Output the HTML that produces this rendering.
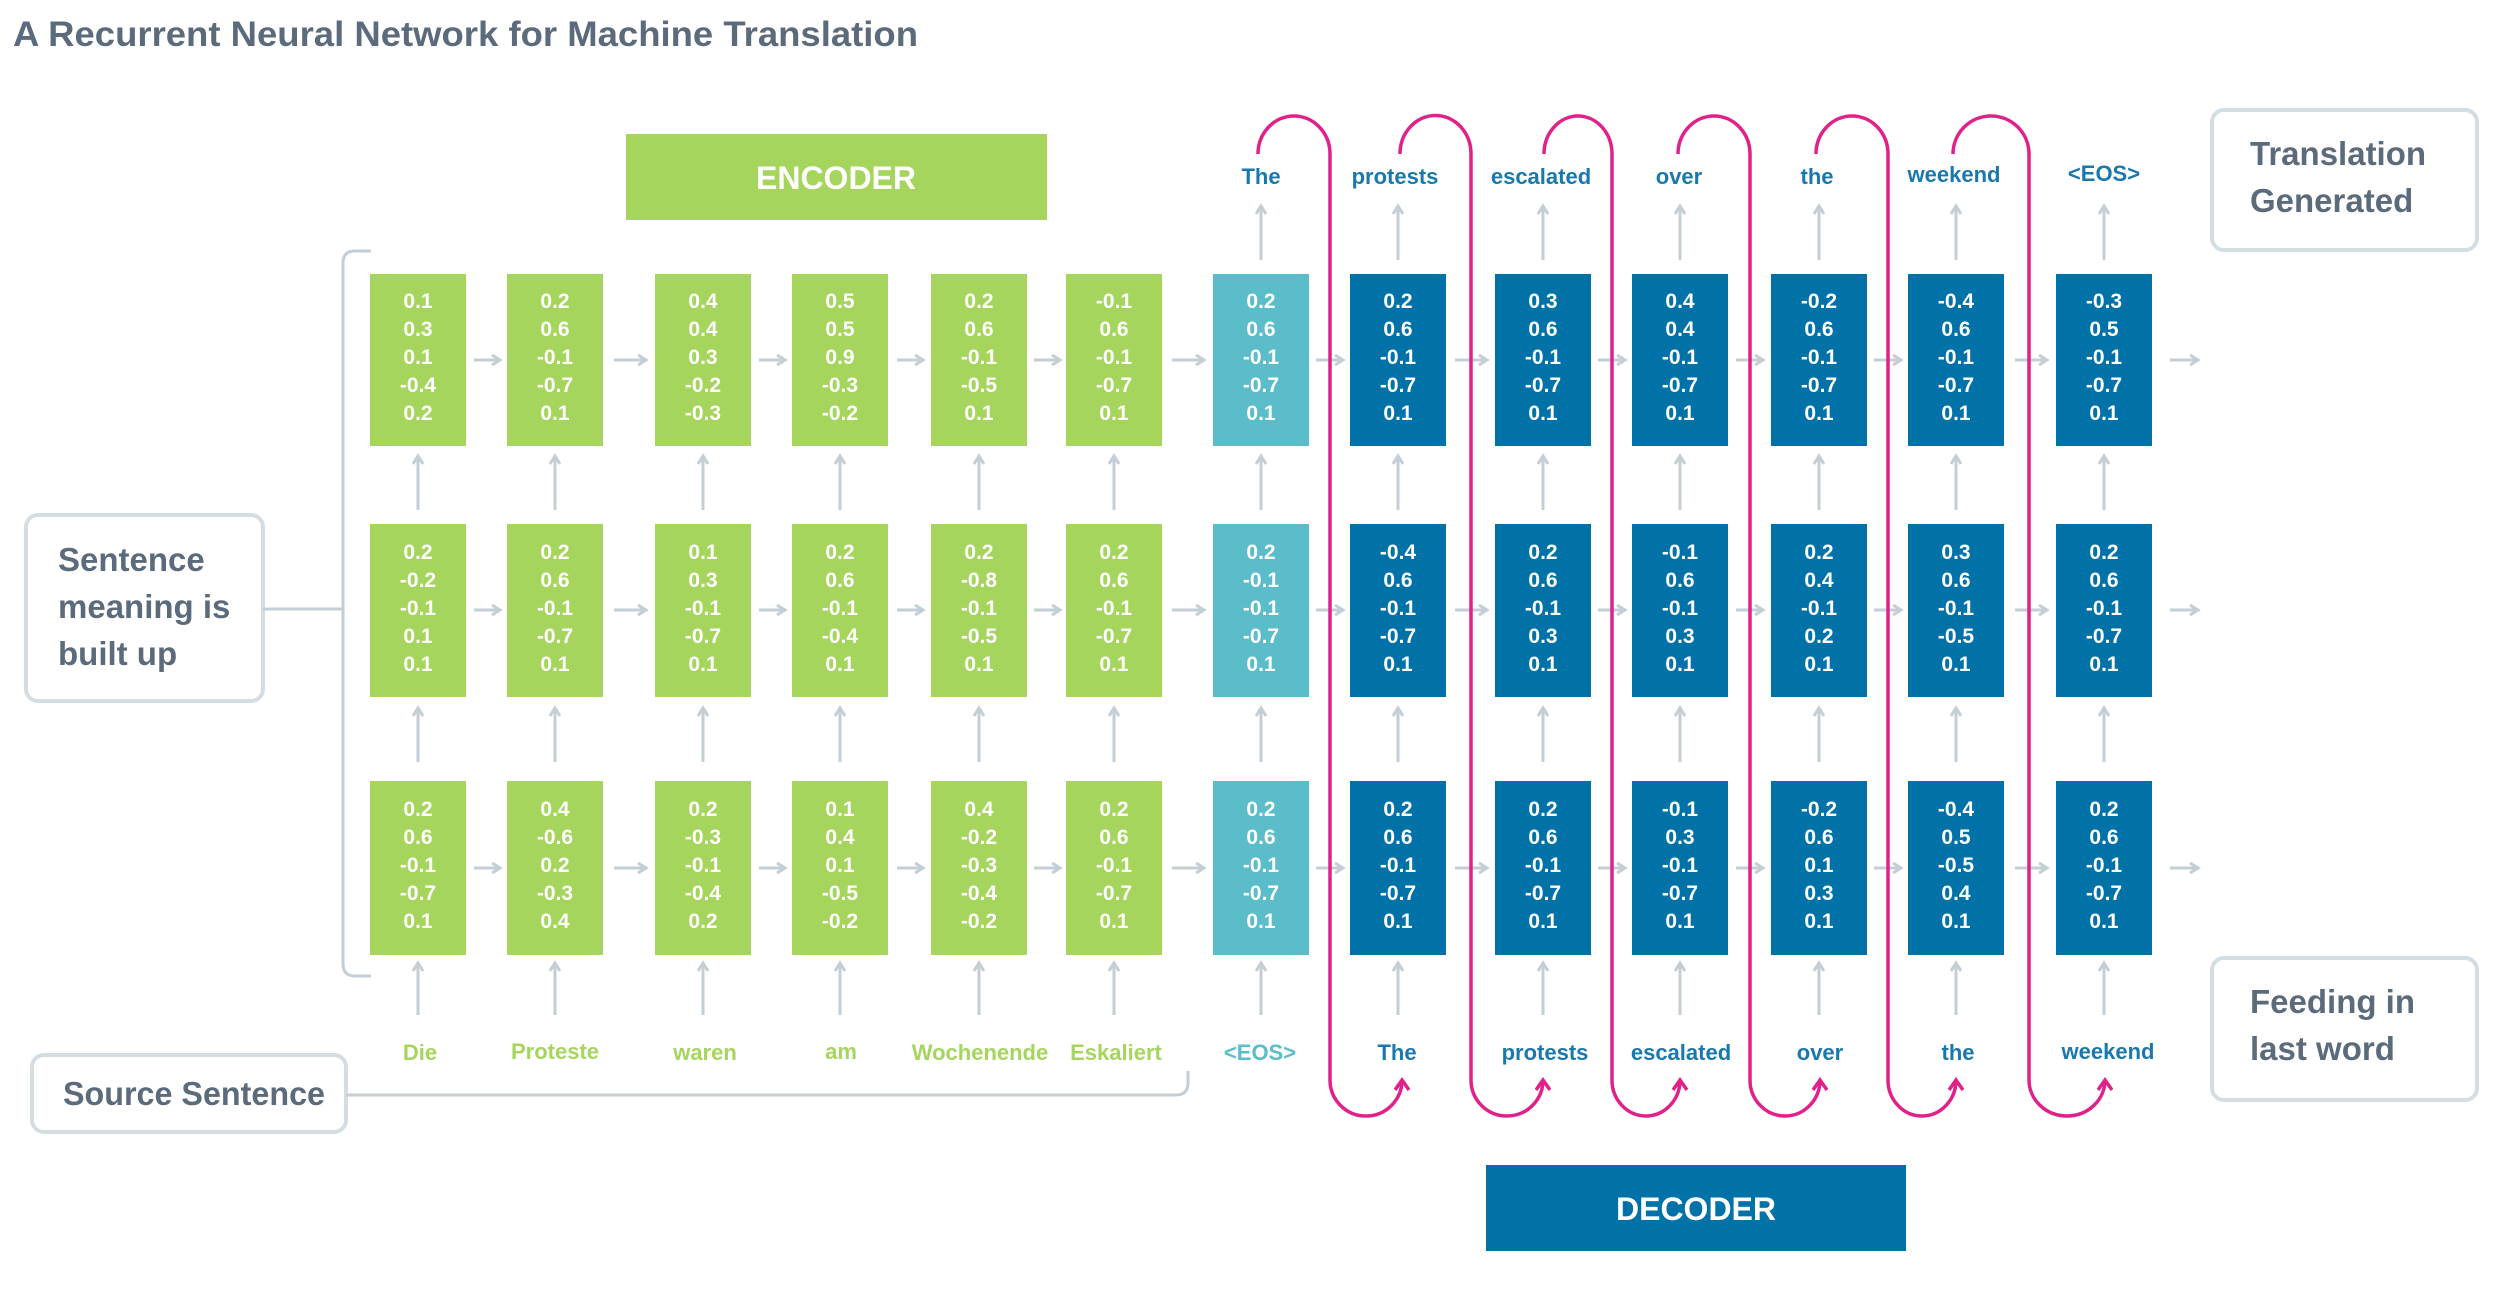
<!DOCTYPE html>
<html><head><meta charset="utf-8"><style>
html,body{margin:0;padding:0;background:#fff;}
svg{display:block;font-family:"Liberation Sans",sans-serif;font-weight:bold;}
.n{fill:#fff;font-size:21px;text-anchor:middle;}
.g{fill:#a6d55e;}.t{fill:#5bbcca;}.b{fill:#0072a8;}
.lw{font-size:22px;text-anchor:middle;}
.ga{stroke:#c3ced5;stroke-width:3;fill:none;}
.pk{stroke:#e0218a;stroke-width:3.5;fill:none;}
.sb{fill:#fff;stroke:#d3dde2;stroke-width:4;}
.st{fill:#5b6b7b;font-size:33px;}
</style></head><body>
<svg width="2500" height="1296" viewBox="0 0 2500 1296" xmlns="http://www.w3.org/2000/svg">
<defs>
<marker id="ah" markerWidth="12" markerHeight="12" refX="9" refY="6" orient="auto" markerUnits="userSpaceOnUse"><path d="M1,1 L9,6 L1,11" stroke="#c3ced5" stroke-width="3" fill="none"/></marker>
<marker id="ph" markerWidth="16" markerHeight="16" refX="11" refY="8" orient="auto" markerUnits="userSpaceOnUse"><path d="M1,1 L11,8 L1,15" stroke="#e0218a" stroke-width="3.5" fill="none"/></marker>
</defs>
<text x="13" y="46" fill="#5b6b7b" font-size="35" textLength="905" lengthAdjust="spacingAndGlyphs">A Recurrent Neural Network for Machine Translation</text>

<rect x="626" y="134" width="421" height="86" fill="#a6d55e"/>
<text x="836" y="189" fill="#fff" font-size="32" text-anchor="middle">ENCODER</text>
<rect x="1486" y="1165" width="420" height="86" fill="#0072a8"/>
<text x="1696" y="1220" fill="#fff" font-size="32" text-anchor="middle">DECODER</text>

<rect x="26" y="515" width="237" height="186" rx="12" class="sb"/>
<text x="58" y="571" class="st">Sentence</text><text x="58" y="618" class="st">meaning is</text><text x="58" y="665" class="st">built up</text>
<rect x="32" y="1055" width="314" height="77" rx="12" class="sb"/>
<text x="63" y="1105" class="st" textLength="262" lengthAdjust="spacingAndGlyphs">Source Sentence</text>
<rect x="2212" y="110" width="265" height="140" rx="12" class="sb"/>
<text x="2250" y="165" class="st">Translation</text><text x="2250" y="212" class="st">Generated</text>
<rect x="2212" y="958" width="265" height="142" rx="12" class="sb"/>
<text x="2250" y="1013" class="st">Feeding in</text><text x="2250" y="1060" class="st">last word</text>

<path class="ga" d="M371,251 L355,251 Q343,251 343,263 L343,964 Q343,976 355,976 L371,976" stroke-width="4"/>
<path class="ga" d="M263,609 L343,609" stroke-width="4"/>
<path class="ga" d="M346,1095 L1176,1095 Q1188,1095 1188,1083 L1188,1071" stroke-width="4"/>

<g>
<rect x="370" y="274" width="96" height="172" class="g"/><rect x="507" y="274" width="96" height="172" class="g"/><rect x="655" y="274" width="96" height="172" class="g"/><rect x="792" y="274" width="96" height="172" class="g"/><rect x="931" y="274" width="96" height="172" class="g"/><rect x="1066" y="274" width="96" height="172" class="g"/><rect x="1213" y="274" width="96" height="172" class="t"/><rect x="1350" y="274" width="96" height="172" class="b"/><rect x="1495" y="274" width="96" height="172" class="b"/><rect x="1632" y="274" width="96" height="172" class="b"/><rect x="1771" y="274" width="96" height="172" class="b"/><rect x="1908" y="274" width="96" height="172" class="b"/><rect x="2056" y="274" width="96" height="172" class="b"/>
<rect x="370" y="524" width="96" height="173" class="g"/><rect x="507" y="524" width="96" height="173" class="g"/><rect x="655" y="524" width="96" height="173" class="g"/><rect x="792" y="524" width="96" height="173" class="g"/><rect x="931" y="524" width="96" height="173" class="g"/><rect x="1066" y="524" width="96" height="173" class="g"/><rect x="1213" y="524" width="96" height="173" class="t"/><rect x="1350" y="524" width="96" height="173" class="b"/><rect x="1495" y="524" width="96" height="173" class="b"/><rect x="1632" y="524" width="96" height="173" class="b"/><rect x="1771" y="524" width="96" height="173" class="b"/><rect x="1908" y="524" width="96" height="173" class="b"/><rect x="2056" y="524" width="96" height="173" class="b"/>
<rect x="370" y="781" width="96" height="174" class="g"/><rect x="507" y="781" width="96" height="174" class="g"/><rect x="655" y="781" width="96" height="174" class="g"/><rect x="792" y="781" width="96" height="174" class="g"/><rect x="931" y="781" width="96" height="174" class="g"/><rect x="1066" y="781" width="96" height="174" class="g"/><rect x="1213" y="781" width="96" height="174" class="t"/><rect x="1350" y="781" width="96" height="174" class="b"/><rect x="1495" y="781" width="96" height="174" class="b"/><rect x="1632" y="781" width="96" height="174" class="b"/><rect x="1771" y="781" width="96" height="174" class="b"/><rect x="1908" y="781" width="96" height="174" class="b"/><rect x="2056" y="781" width="96" height="174" class="b"/>
</g>

<g class="n">
<text x="418" y="308">0.1</text><text x="418" y="336">0.3</text><text x="418" y="364">0.1</text><text x="418" y="392">-0.4</text><text x="418" y="420">0.2</text>
<text x="555" y="308">0.2</text><text x="555" y="336">0.6</text><text x="555" y="364">-0.1</text><text x="555" y="392">-0.7</text><text x="555" y="420">0.1</text>
<text x="703" y="308">0.4</text><text x="703" y="336">0.4</text><text x="703" y="364">0.3</text><text x="703" y="392">-0.2</text><text x="703" y="420">-0.3</text>
<text x="840" y="308">0.5</text><text x="840" y="336">0.5</text><text x="840" y="364">0.9</text><text x="840" y="392">-0.3</text><text x="840" y="420">-0.2</text>
<text x="979" y="308">0.2</text><text x="979" y="336">0.6</text><text x="979" y="364">-0.1</text><text x="979" y="392">-0.5</text><text x="979" y="420">0.1</text>
<text x="1114" y="308">-0.1</text><text x="1114" y="336">0.6</text><text x="1114" y="364">-0.1</text><text x="1114" y="392">-0.7</text><text x="1114" y="420">0.1</text>
<text x="1261" y="308">0.2</text><text x="1261" y="336">0.6</text><text x="1261" y="364">-0.1</text><text x="1261" y="392">-0.7</text><text x="1261" y="420">0.1</text>
<text x="1398" y="308">0.2</text><text x="1398" y="336">0.6</text><text x="1398" y="364">-0.1</text><text x="1398" y="392">-0.7</text><text x="1398" y="420">0.1</text>
<text x="1543" y="308">0.3</text><text x="1543" y="336">0.6</text><text x="1543" y="364">-0.1</text><text x="1543" y="392">-0.7</text><text x="1543" y="420">0.1</text>
<text x="1680" y="308">0.4</text><text x="1680" y="336">0.4</text><text x="1680" y="364">-0.1</text><text x="1680" y="392">-0.7</text><text x="1680" y="420">0.1</text>
<text x="1819" y="308">-0.2</text><text x="1819" y="336">0.6</text><text x="1819" y="364">-0.1</text><text x="1819" y="392">-0.7</text><text x="1819" y="420">0.1</text>
<text x="1956" y="308">-0.4</text><text x="1956" y="336">0.6</text><text x="1956" y="364">-0.1</text><text x="1956" y="392">-0.7</text><text x="1956" y="420">0.1</text>
<text x="2104" y="308">-0.3</text><text x="2104" y="336">0.5</text><text x="2104" y="364">-0.1</text><text x="2104" y="392">-0.7</text><text x="2104" y="420">0.1</text>
</g>
<g class="n">
<text x="418" y="559">0.2</text><text x="418" y="587">-0.2</text><text x="418" y="615">-0.1</text><text x="418" y="643">0.1</text><text x="418" y="671">0.1</text>
<text x="555" y="559">0.2</text><text x="555" y="587">0.6</text><text x="555" y="615">-0.1</text><text x="555" y="643">-0.7</text><text x="555" y="671">0.1</text>
<text x="703" y="559">0.1</text><text x="703" y="587">0.3</text><text x="703" y="615">-0.1</text><text x="703" y="643">-0.7</text><text x="703" y="671">0.1</text>
<text x="840" y="559">0.2</text><text x="840" y="587">0.6</text><text x="840" y="615">-0.1</text><text x="840" y="643">-0.4</text><text x="840" y="671">0.1</text>
<text x="979" y="559">0.2</text><text x="979" y="587">-0.8</text><text x="979" y="615">-0.1</text><text x="979" y="643">-0.5</text><text x="979" y="671">0.1</text>
<text x="1114" y="559">0.2</text><text x="1114" y="587">0.6</text><text x="1114" y="615">-0.1</text><text x="1114" y="643">-0.7</text><text x="1114" y="671">0.1</text>
<text x="1261" y="559">0.2</text><text x="1261" y="587">-0.1</text><text x="1261" y="615">-0.1</text><text x="1261" y="643">-0.7</text><text x="1261" y="671">0.1</text>
<text x="1398" y="559">-0.4</text><text x="1398" y="587">0.6</text><text x="1398" y="615">-0.1</text><text x="1398" y="643">-0.7</text><text x="1398" y="671">0.1</text>
<text x="1543" y="559">0.2</text><text x="1543" y="587">0.6</text><text x="1543" y="615">-0.1</text><text x="1543" y="643">0.3</text><text x="1543" y="671">0.1</text>
<text x="1680" y="559">-0.1</text><text x="1680" y="587">0.6</text><text x="1680" y="615">-0.1</text><text x="1680" y="643">0.3</text><text x="1680" y="671">0.1</text>
<text x="1819" y="559">0.2</text><text x="1819" y="587">0.4</text><text x="1819" y="615">-0.1</text><text x="1819" y="643">0.2</text><text x="1819" y="671">0.1</text>
<text x="1956" y="559">0.3</text><text x="1956" y="587">0.6</text><text x="1956" y="615">-0.1</text><text x="1956" y="643">-0.5</text><text x="1956" y="671">0.1</text>
<text x="2104" y="559">0.2</text><text x="2104" y="587">0.6</text><text x="2104" y="615">-0.1</text><text x="2104" y="643">-0.7</text><text x="2104" y="671">0.1</text>
</g>
<g class="n">
<text x="418" y="816">0.2</text><text x="418" y="844">0.6</text><text x="418" y="872">-0.1</text><text x="418" y="900">-0.7</text><text x="418" y="928">0.1</text>
<text x="555" y="816">0.4</text><text x="555" y="844">-0.6</text><text x="555" y="872">0.2</text><text x="555" y="900">-0.3</text><text x="555" y="928">0.4</text>
<text x="703" y="816">0.2</text><text x="703" y="844">-0.3</text><text x="703" y="872">-0.1</text><text x="703" y="900">-0.4</text><text x="703" y="928">0.2</text>
<text x="840" y="816">0.1</text><text x="840" y="844">0.4</text><text x="840" y="872">0.1</text><text x="840" y="900">-0.5</text><text x="840" y="928">-0.2</text>
<text x="979" y="816">0.4</text><text x="979" y="844">-0.2</text><text x="979" y="872">-0.3</text><text x="979" y="900">-0.4</text><text x="979" y="928">-0.2</text>
<text x="1114" y="816">0.2</text><text x="1114" y="844">0.6</text><text x="1114" y="872">-0.1</text><text x="1114" y="900">-0.7</text><text x="1114" y="928">0.1</text>
<text x="1261" y="816">0.2</text><text x="1261" y="844">0.6</text><text x="1261" y="872">-0.1</text><text x="1261" y="900">-0.7</text><text x="1261" y="928">0.1</text>
<text x="1398" y="816">0.2</text><text x="1398" y="844">0.6</text><text x="1398" y="872">-0.1</text><text x="1398" y="900">-0.7</text><text x="1398" y="928">0.1</text>
<text x="1543" y="816">0.2</text><text x="1543" y="844">0.6</text><text x="1543" y="872">-0.1</text><text x="1543" y="900">-0.7</text><text x="1543" y="928">0.1</text>
<text x="1680" y="816">-0.1</text><text x="1680" y="844">0.3</text><text x="1680" y="872">-0.1</text><text x="1680" y="900">-0.7</text><text x="1680" y="928">0.1</text>
<text x="1819" y="816">-0.2</text><text x="1819" y="844">0.6</text><text x="1819" y="872">0.1</text><text x="1819" y="900">0.3</text><text x="1819" y="928">0.1</text>
<text x="1956" y="816">-0.4</text><text x="1956" y="844">0.5</text><text x="1956" y="872">-0.5</text><text x="1956" y="900">0.4</text><text x="1956" y="928">0.1</text>
<text x="2104" y="816">0.2</text><text x="2104" y="844">0.6</text><text x="2104" y="872">-0.1</text><text x="2104" y="900">-0.7</text><text x="2104" y="928">0.1</text>
</g>

<g class="ga">
<line x1="474" y1="360" x2="500" y2="360" marker-end="url(#ah)"/><line x1="614" y1="360" x2="646" y2="360" marker-end="url(#ah)"/><line x1="759" y1="360" x2="785" y2="360" marker-end="url(#ah)"/><line x1="897" y1="360" x2="923" y2="360" marker-end="url(#ah)"/><line x1="1034" y1="360" x2="1060" y2="360" marker-end="url(#ah)"/><line x1="1172" y1="360" x2="1204" y2="360" marker-end="url(#ah)"/><line x1="1316" y1="360" x2="1343" y2="360" marker-end="url(#ah)"/><line x1="1455" y1="360" x2="1487" y2="360" marker-end="url(#ah)"/><line x1="1598" y1="360" x2="1625" y2="360" marker-end="url(#ah)"/><line x1="1736" y1="360" x2="1763" y2="360" marker-end="url(#ah)"/><line x1="1874" y1="360" x2="1901" y2="360" marker-end="url(#ah)"/><line x1="2015" y1="360" x2="2047" y2="360" marker-end="url(#ah)"/><line x1="2170" y1="360" x2="2198" y2="360" marker-end="url(#ah)"/>
<line x1="474" y1="610" x2="500" y2="610" marker-end="url(#ah)"/><line x1="614" y1="610" x2="646" y2="610" marker-end="url(#ah)"/><line x1="759" y1="610" x2="785" y2="610" marker-end="url(#ah)"/><line x1="897" y1="610" x2="923" y2="610" marker-end="url(#ah)"/><line x1="1034" y1="610" x2="1060" y2="610" marker-end="url(#ah)"/><line x1="1172" y1="610" x2="1204" y2="610" marker-end="url(#ah)"/><line x1="1316" y1="610" x2="1343" y2="610" marker-end="url(#ah)"/><line x1="1455" y1="610" x2="1487" y2="610" marker-end="url(#ah)"/><line x1="1598" y1="610" x2="1625" y2="610" marker-end="url(#ah)"/><line x1="1736" y1="610" x2="1763" y2="610" marker-end="url(#ah)"/><line x1="1874" y1="610" x2="1901" y2="610" marker-end="url(#ah)"/><line x1="2015" y1="610" x2="2047" y2="610" marker-end="url(#ah)"/><line x1="2170" y1="610" x2="2198" y2="610" marker-end="url(#ah)"/>
<line x1="474" y1="868" x2="500" y2="868" marker-end="url(#ah)"/><line x1="614" y1="868" x2="646" y2="868" marker-end="url(#ah)"/><line x1="759" y1="868" x2="785" y2="868" marker-end="url(#ah)"/><line x1="897" y1="868" x2="923" y2="868" marker-end="url(#ah)"/><line x1="1034" y1="868" x2="1060" y2="868" marker-end="url(#ah)"/><line x1="1172" y1="868" x2="1204" y2="868" marker-end="url(#ah)"/><line x1="1316" y1="868" x2="1343" y2="868" marker-end="url(#ah)"/><line x1="1455" y1="868" x2="1487" y2="868" marker-end="url(#ah)"/><line x1="1598" y1="868" x2="1625" y2="868" marker-end="url(#ah)"/><line x1="1736" y1="868" x2="1763" y2="868" marker-end="url(#ah)"/><line x1="1874" y1="868" x2="1901" y2="868" marker-end="url(#ah)"/><line x1="2015" y1="868" x2="2047" y2="868" marker-end="url(#ah)"/><line x1="2170" y1="868" x2="2198" y2="868" marker-end="url(#ah)"/>
</g>

<g class="ga">
<line x1="418" y1="1015" x2="418" y2="963" marker-end="url(#ah)"/><line x1="555" y1="1015" x2="555" y2="963" marker-end="url(#ah)"/><line x1="703" y1="1015" x2="703" y2="963" marker-end="url(#ah)"/><line x1="840" y1="1015" x2="840" y2="963" marker-end="url(#ah)"/><line x1="979" y1="1015" x2="979" y2="963" marker-end="url(#ah)"/><line x1="1114" y1="1015" x2="1114" y2="963" marker-end="url(#ah)"/><line x1="1261" y1="1015" x2="1261" y2="963" marker-end="url(#ah)"/><line x1="1398" y1="1015" x2="1398" y2="963" marker-end="url(#ah)"/><line x1="1543" y1="1015" x2="1543" y2="963" marker-end="url(#ah)"/><line x1="1680" y1="1015" x2="1680" y2="963" marker-end="url(#ah)"/><line x1="1819" y1="1015" x2="1819" y2="963" marker-end="url(#ah)"/><line x1="1956" y1="1015" x2="1956" y2="963" marker-end="url(#ah)"/><line x1="2104" y1="1015" x2="2104" y2="963" marker-end="url(#ah)"/>
<line x1="418" y1="762" x2="418" y2="708" marker-end="url(#ah)"/><line x1="555" y1="762" x2="555" y2="708" marker-end="url(#ah)"/><line x1="703" y1="762" x2="703" y2="708" marker-end="url(#ah)"/><line x1="840" y1="762" x2="840" y2="708" marker-end="url(#ah)"/><line x1="979" y1="762" x2="979" y2="708" marker-end="url(#ah)"/><line x1="1114" y1="762" x2="1114" y2="708" marker-end="url(#ah)"/><line x1="1261" y1="762" x2="1261" y2="708" marker-end="url(#ah)"/><line x1="1398" y1="762" x2="1398" y2="708" marker-end="url(#ah)"/><line x1="1543" y1="762" x2="1543" y2="708" marker-end="url(#ah)"/><line x1="1680" y1="762" x2="1680" y2="708" marker-end="url(#ah)"/><line x1="1819" y1="762" x2="1819" y2="708" marker-end="url(#ah)"/><line x1="1956" y1="762" x2="1956" y2="708" marker-end="url(#ah)"/><line x1="2104" y1="762" x2="2104" y2="708" marker-end="url(#ah)"/>
<line x1="418" y1="510" x2="418" y2="456" marker-end="url(#ah)"/><line x1="555" y1="510" x2="555" y2="456" marker-end="url(#ah)"/><line x1="703" y1="510" x2="703" y2="456" marker-end="url(#ah)"/><line x1="840" y1="510" x2="840" y2="456" marker-end="url(#ah)"/><line x1="979" y1="510" x2="979" y2="456" marker-end="url(#ah)"/><line x1="1114" y1="510" x2="1114" y2="456" marker-end="url(#ah)"/><line x1="1261" y1="510" x2="1261" y2="456" marker-end="url(#ah)"/><line x1="1398" y1="510" x2="1398" y2="456" marker-end="url(#ah)"/><line x1="1543" y1="510" x2="1543" y2="456" marker-end="url(#ah)"/><line x1="1680" y1="510" x2="1680" y2="456" marker-end="url(#ah)"/><line x1="1819" y1="510" x2="1819" y2="456" marker-end="url(#ah)"/><line x1="1956" y1="510" x2="1956" y2="456" marker-end="url(#ah)"/><line x1="2104" y1="510" x2="2104" y2="456" marker-end="url(#ah)"/>
<line x1="1261" y1="260" x2="1261" y2="206" marker-end="url(#ah)"/><line x1="1398" y1="260" x2="1398" y2="206" marker-end="url(#ah)"/><line x1="1543" y1="260" x2="1543" y2="206" marker-end="url(#ah)"/><line x1="1680" y1="260" x2="1680" y2="206" marker-end="url(#ah)"/><line x1="1819" y1="260" x2="1819" y2="206" marker-end="url(#ah)"/><line x1="1956" y1="260" x2="1956" y2="206" marker-end="url(#ah)"/><line x1="2104" y1="260" x2="2104" y2="206" marker-end="url(#ah)"/>
</g>

<g class="lw" fill="#a6d55e">
<text x="420" y="1060">Die</text><text x="555" y="1059">Proteste</text><text x="705" y="1060">waren</text><text x="841" y="1059">am</text><text x="980" y="1060">Wochenende</text><text x="1116" y="1060">Eskaliert</text>
</g>
<text x="1260" y="1060" class="lw" fill="#5bbcca">&lt;EOS&gt;</text>
<g class="lw" fill="#1a78ad">
<text x="1397" y="1060">The</text><text x="1545" y="1060">protests</text><text x="1681" y="1060">escalated</text><text x="1820" y="1060">over</text><text x="1958" y="1060">the</text><text x="2108" y="1059">weekend</text>
<text x="1261" y="184">The</text><text x="1395" y="184">protests</text><text x="1541" y="184">escalated</text><text x="1679" y="184">over</text><text x="1817" y="184">the</text><text x="1954" y="182">weekend</text><text x="2104" y="181">&lt;EOS&gt;</text>
</g>

<g class="pk">
<path d="M1258,154 A36,38 0 0 1 1330,154 L1330,1080 A36,36 0 0 0 1402,1080" marker-end="url(#ph)"/>
<path d="M1400,154 A35,38 0 0 1 1471,154 L1471,1080 A36,36 0 0 0 1543,1080" marker-end="url(#ph)"/>
<path d="M1544,154 A34,38 0 0 1 1612,154 L1612,1080 A34,36 0 0 0 1680,1080" marker-end="url(#ph)"/>
<path d="M1678,154 A36,38 0 0 1 1750,154 L1750,1080 A35,36 0 0 0 1820,1080" marker-end="url(#ph)"/>
<path d="M1816,154 A36,38 0 0 1 1888,154 L1888,1080 A34,36 0 0 0 1956,1080" marker-end="url(#ph)"/>
<path d="M1953,154 A38,38 0 0 1 2029,154 L2029,1080 A38,36 0 0 0 2105,1080" marker-end="url(#ph)"/>
</g>
</svg>
</body></html>
